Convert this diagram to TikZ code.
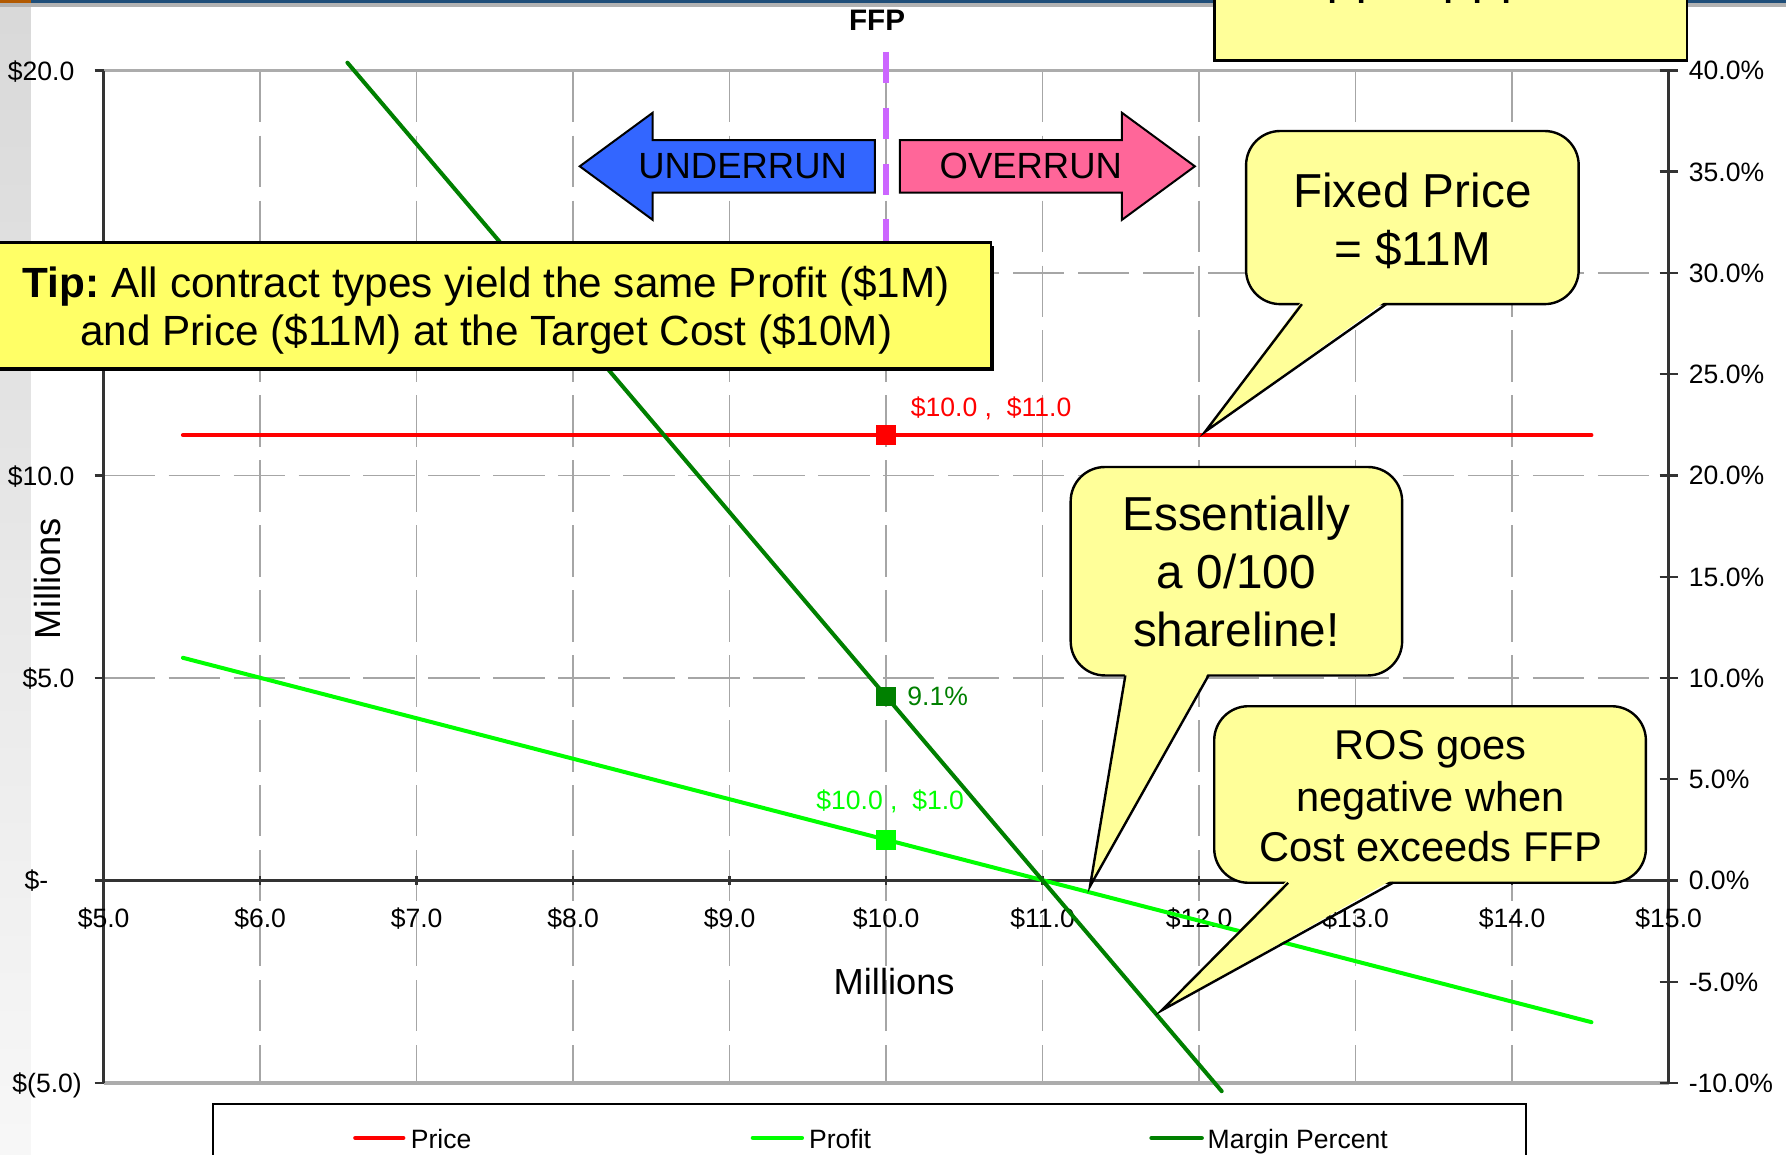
\documentclass[tikz,border=0pt]{standalone}
\usepackage{fontspec}
\setmainfont{Liberation Sans}
\frenchspacing
\definecolor{pricered}{HTML}{FF0000}
\definecolor{profitgreen}{HTML}{00FF00}
\definecolor{margingreen}{HTML}{008000}
\definecolor{gridgray}{HTML}{A6A6A6}
\definecolor{ffpviolet}{HTML}{CC66FF}
\definecolor{underblue}{HTML}{3366FF}
\definecolor{overpink}{HTML}{FF6699}
\definecolor{calloutyellow}{HTML}{FFFF99}
\definecolor{tipyellow}{HTML}{FFFF66}
\definecolor{bandblue}{HTML}{1F4E79}
\newcommand\fsAxis{\fontsize{6.63pt}{8pt}\selectfont}
\newcommand\fsTitle{\fontsize{9.05pt}{11pt}\selectfont}
\newcommand\fsArrow{\fontsize{9.1pt}{11pt}\selectfont}
\newcommand\fsTip{\fontsize{10.55pt}{12pt}\selectfont}
\newcommand\fsCall{\fontsize{11.9pt}{14pt}\selectfont}
\newcommand\fsRos{\fontsize{10.4pt}{12pt}\selectfont}
\newcommand\fsFFP{\fontsize{7.4pt}{9pt}\selectfont\bfseries}
\begin{document}
\begin{tikzpicture}[x=0.01cm,y=-0.01cm,
  gridln/.style={draw=gridgray, line width=0.4pt, dash pattern=on 0.45cm off 0.12cm},
  axisln/.style={draw=black!80, line width=0.6pt},
  frameln/.style={draw=gray!65, line width=0.9pt},
  series/.style={line width=1.0pt, line cap=round, line join=round},
  sqmarker/.style={rectangle, minimum size=0.17cm, inner sep=0pt},
  axistext/.style={font=\fsAxis, inner sep=0pt},
  arrowbody/.style={draw=black, line width=0.5pt, line join=miter},
  arrowtext/.style={font=\fsArrow, inner sep=0pt},
  calloutbody/.style={draw=black, line width=0.6pt, fill=calloutyellow, rounded corners=0.3cm},
  calloutedge/.style={draw=black, line width=0.6pt, line join=miter},
  callouttext/.style={font=\fsCall, inner sep=0pt, anchor=base},
  rostext/.style={font=\fsRos, inner sep=0pt, anchor=base},
  tiptext/.style={font=\fsTip, inner sep=0pt, anchor=base},
]
\useasboundingbox (0,0) rectangle (1568,1014);
\clip (0,0) rectangle (1568,1014);
% background
\fill[white] (0,0) rectangle (1568,1014);
\shade[top color=black!15, bottom color=black!3] (0,5) rectangle (27,1014);
\fill[black!30] (0,3) rectangle (1568,6);
\fill[bandblue] (0,0) rectangle (1568,3);
\fill[orange!70!black] (0,0) rectangle (27,3);

% grid
\foreach \v in {6,...,14} {
  \pgfmathsetmacro\xx{91+137.4*(\v-5)}
  \draw[gridln] (\xx,62) -- (\xx,951);
}
\foreach \yy in {239.75,417.5,595.25} {
  \draw[gridln] (91,\yy) -- (1465,\yy);
}
% frame and axes
\draw[frameln] (91,62) -- (1465,62);
\draw[frameln] (91,951) -- (1465,951);
\draw[axisln] (91,62) -- (91,951);
\draw[axisln] (1465,62) -- (1465,951);
\draw[axisln] (91,773) -- (1465,773);
\foreach \yy in {62,239.75,417.5,595.25,773,950.75} {
  \draw[axisln] (83,\yy) -- (91,\yy);
}
\foreach \p in {40,35,...,-10} {
  \pgfmathsetmacro\yy{773-17.78*\p}
  \draw[axisln] (1457,\yy) -- (1473,\yy);
  \node[axistext, anchor=base west] (yr\p) at (1482,\yy+8.3) {\p.0\%};
}
\foreach \v in {5,...,15} {
  \pgfmathsetmacro\xx{91+137.4*(\v-5)}
  \draw[axisln] (\xx,769) -- (\xx,777);
  \node[axistext, anchor=base] (xl\v) at (\xx,814) {\$\v.0};
}
% left axis labels
\node[axistext, anchor=base east] (yl20) at (66,70.3) {\$20.0};
\node[axistext, anchor=base east] (yl10) at (66,425.8) {\$10.0};
\node[axistext, anchor=base east] (yl5) at (66,603.5) {\$5.0};
\node[axistext, anchor=base west] (yl0) at (21,781.3) {\$-};
\node[axistext, anchor=base east] (ylm5) at (72.5,959) {\$(5.0)};
% axis titles
\node[font=\fsTitle, inner sep=0pt, anchor=base] (xtitle) at (785,873) {Millions};
\node[font=\fsTitle, inner sep=0pt, rotate=90] (ytitle) at (41.5,508) {Millions};

% series
\coordinate (pr0) at (160.6,382);
\coordinate (pr1) at (1397.2,382);
\coordinate (pf0) at (160.6,577.5);
\coordinate (pf1) at (1397.2,897.4);
\coordinate (mg0) at (305,55);
\coordinate (mg1) at (1072.6,958);
\draw[series, pricered] (pr0) -- (pr1);
\draw[series, profitgreen] (pf0) -- (pf1);
\draw[series, margingreen] (mg0) -- (mg1);
\node[sqmarker, fill=pricered] (mprice) at (778,382) {};
\node[sqmarker, fill=profitgreen] (mprofit) at (778,737.5) {};
\node[sqmarker, fill=margingreen] (mmargin) at (778,611.4) {};
\node[axistext, text=pricered, anchor=base west] (lprice) at (799,366) {\$10.0 ,\ \ \$11.0};
\node[axistext, text=profitgreen, anchor=base west] (lprofit) at (716,710.6) {\$10.0 ,\ \ \$1.0};
\node[axistext, text=margingreen, anchor=base west] (lmargin) at (796,619.8) {9.1\%};

% FFP marker line
\draw[ffpviolet, line width=1.5pt, dash pattern=on 0.275cm off 0.215cm] (778,45.5) -- (778,213);
\node[font=\fsFFP, inner sep=0pt, anchor=base] (ffp) at (770,27) {FFP};

% arrows
\draw[arrowbody, fill=underblue] (509,146) -- (573,99) -- (573,123) -- (768,123) -- (768,169) -- (573,169) -- (573,193) -- cycle;
\node[arrowtext] (under) at (652,146) {UNDERRUN};
\draw[arrowbody, fill=overpink] (1049,146) -- (985,99) -- (985,123) -- (790,123) -- (790,169) -- (985,169) -- (985,193) -- cycle;
\node[arrowtext] (over) at (905,146) {OVERRUN};

% tip box
\fill[black] (-2,216) rectangle (873,326);
\draw[black, line width=0.7pt, fill=tipyellow] (-5,213) rectangle (870,323);
\node[tiptext] (tip1) at (427,261) {\textbf{Tip:} All contract types yield the same Profit (\$1M)};
\node[tiptext] (tip2) at (427,303) {and Price (\$11M) at the Target Cost (\$10M)};

% top right box (cut off at the top edge)
\draw[black, line width=0.7pt, fill=calloutyellow] (1066,-10) rectangle (1481,53);
\node[callouttext] (topbox) at (1255,3) {FP = FFP};

% Fixed price callout
\draw[calloutbody] (1094,115) rectangle (1386,267);
\fill[calloutyellow] (1143,264) -- (1217,264) -- (1058,379) -- cycle;
\draw[calloutedge] (1143,267) -- (1058,379) -- (1217,267);
\node[callouttext] (fp1) at (1240,182) {Fixed Price};
\node[callouttext] (fp2) at (1240,233) {= \$11M};

% Essentially callout
\draw[calloutbody] (940,410) rectangle (1231,593);
\fill[calloutyellow] (988,590) -- (1061,590) -- (957,778) -- cycle;
\draw[calloutedge] (988,593) -- (957,778) -- (1061,593);
\node[callouttext] (es1) at (1085.5,466) {Essentially};
\node[callouttext] (es2) at (1085.5,516.5) {a 0/100};
\node[callouttext] (es3) at (1085.5,567.7) {shareline!};

% ROS callout
\draw[calloutbody] (1066,620) rectangle (1445,775);
\fill[calloutyellow] (1131,772) -- (1223,772) -- (1020,887) -- cycle;
\draw[calloutedge] (1131,775) -- (1020,887) -- (1223,775);
\node[rostext] (ros1) at (1256,667) {ROS goes};
\node[rostext] (ros2) at (1256,712.6) {negative when};
\node[rostext] (ros3) at (1256,756.5) {Cost exceeds FFP};

% legend
\draw[black, line width=0.5pt, fill=white] (187,969) rectangle (1340,1050);
\draw[series, pricered, line width=1.1pt] (312,999) -- (354,999);
\node[axistext, anchor=base west] (legprice) at (360,1008) {Price};
\draw[series, profitgreen, line width=1.1pt] (661,999) -- (704,999);
\node[axistext, anchor=base west] (legprofit) at (709.6,1008) {Profit};
\draw[series, margingreen, line width=1.1pt] (1011,999) -- (1055,999);
\node[axistext, anchor=base west] (legmargin) at (1059.6,1008) {Margin Percent};
\end{tikzpicture}
\end{document}
